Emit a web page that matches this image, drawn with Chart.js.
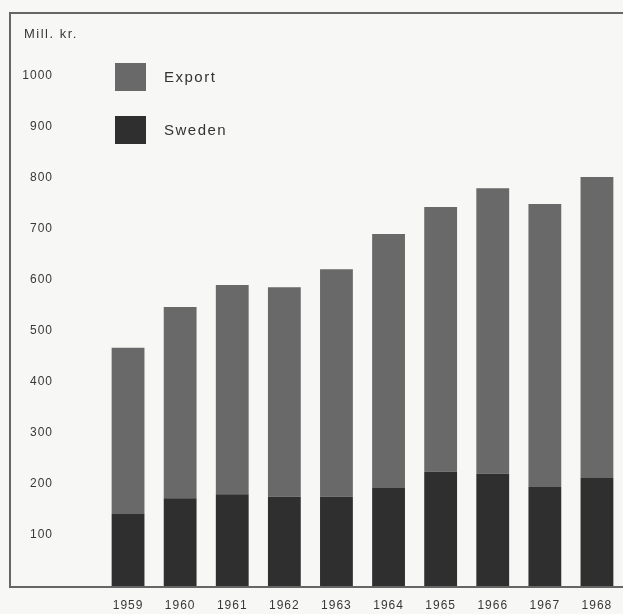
<!DOCTYPE html>
<html>
<head>
<meta charset="utf-8">
<script src="https://cdn.jsdelivr.net/npm/chart.js@4/dist/chart.umd.min.js"></script>
<style>
  html, body { margin: 0; padding: 0; background: #f7f7f5; overflow: hidden; }
  #wrap { position: relative; width: 623px; height: 614px; }
</style>
</head>
<body>
<div id="wrap"><canvas id="c"></canvas></div>
<script>
// Turnover in million kronor, split by market
const years = ['1959', '1960', '1961', '1962', '1963', '1964', '1965', '1966', '1967', '1968'];
const sweden = [141, 172, 180, 175, 175, 192, 224, 220, 194, 212];
const exportSales = [326, 375, 410, 411, 446, 498, 519, 560, 555, 590];
const yTicks = [100, 200, 300, 400, 500, 600, 700, 800, 900, 1000];

const COL_EXPORT = '#696969';
const COL_SWEDEN = '#2f2f2f';
const FONT = '"Liberation Sans", Arial, sans-serif';

// Frame, unit caption and legend boxes
const framePlugin = {
  id: 'frame',
  beforeDraw(chart) {
    const ctx = chart.ctx;
    ctx.save();
    ctx.fillStyle = '#f7f7f5';
    ctx.fillRect(0, 0, chart.width, chart.height);
    const yZero = chart.scales.y.getPixelForValue(0);
    ctx.strokeStyle = '#666';
    ctx.lineWidth = 2;
    ctx.beginPath();
    ctx.moveTo(chart.width, 13);
    ctx.lineTo(10, 13);
    ctx.lineTo(10, yZero + 1);
    ctx.lineTo(chart.width, yZero + 1);
    ctx.stroke();
    ctx.fillStyle = '#383838';
    ctx.font = '13px ' + FONT;
    ctx.letterSpacing = '1.5px';
    ctx.textBaseline = 'middle';
    ctx.textAlign = 'left';
    ctx.fillText('Mill. kr.', 24, 34);
    ctx.restore();
    // wide tracking for the axis labels drawn next
    ctx.letterSpacing = '1px';
  },
  afterDraw(chart) {
    const ctx = chart.ctx;
    ctx.save();
    // legend, Export listed above Sweden
    const items = chart.data.datasets.slice().reverse();
    items.forEach((ds, i) => {
      const top = 63 + i * 53;
      ctx.fillStyle = ds.backgroundColor;
      ctx.fillRect(115, top, 31, 28);
      ctx.fillStyle = '#333';
      ctx.font = '15px ' + FONT;
      ctx.letterSpacing = '1.5px';
      ctx.textBaseline = 'middle';
      ctx.textAlign = 'left';
      ctx.fillText(ds.label, 164, top + 15);
    });
    ctx.restore();
    ctx.letterSpacing = '0px';
  }
};

new Chart(document.getElementById('c'), {
  type: 'bar',
  data: {
    labels: years,
    datasets: [
      { label: 'Sweden', data: sweden, backgroundColor: COL_SWEDEN },
      { label: 'Export', data: exportSales, backgroundColor: COL_EXPORT }
    ]
  },
  options: {
    responsive: true,
    maintainAspectRatio: false,
    animation: false,
    devicePixelRatio: 1,
    layout: { padding: { left: 10, right: 0, top: 76, bottom: 0 } },
    datasets: { bar: { barPercentage: 0.63, categoryPercentage: 1 } },
    plugins: { legend: { display: false }, tooltip: { enabled: false } },
    scales: {
      x: {
        stacked: true,
        grid: { display: false, drawTicks: false },
        border: { display: false },
        ticks: { color: '#383838', font: { family: FONT, size: 12 }, padding: 12, maxRotation: 0 },
        afterFit(scale) { scale.height = 28; }
      },
      y: {
        stacked: true,
        min: 0,
        max: 1000,
        grid: { display: false, drawTicks: false },
        border: { display: false },
        afterBuildTicks(scale) { scale.ticks = yTicks.map(v => ({ value: v })); },
        ticks: {
          color: '#383838',
          font: { family: FONT, size: 12 },
          padding: 49,
          callback: v => String(v)
        },
        afterFit(scale) {
          // wide label gutter, but no extra vertical reservation from the label padding
          scale.width = 92;
          scale.paddingTop = 0;
          scale.paddingBottom = 0;
        }
      }
    }
  },
  plugins: [framePlugin]
});
</script>
</body>
</html>
